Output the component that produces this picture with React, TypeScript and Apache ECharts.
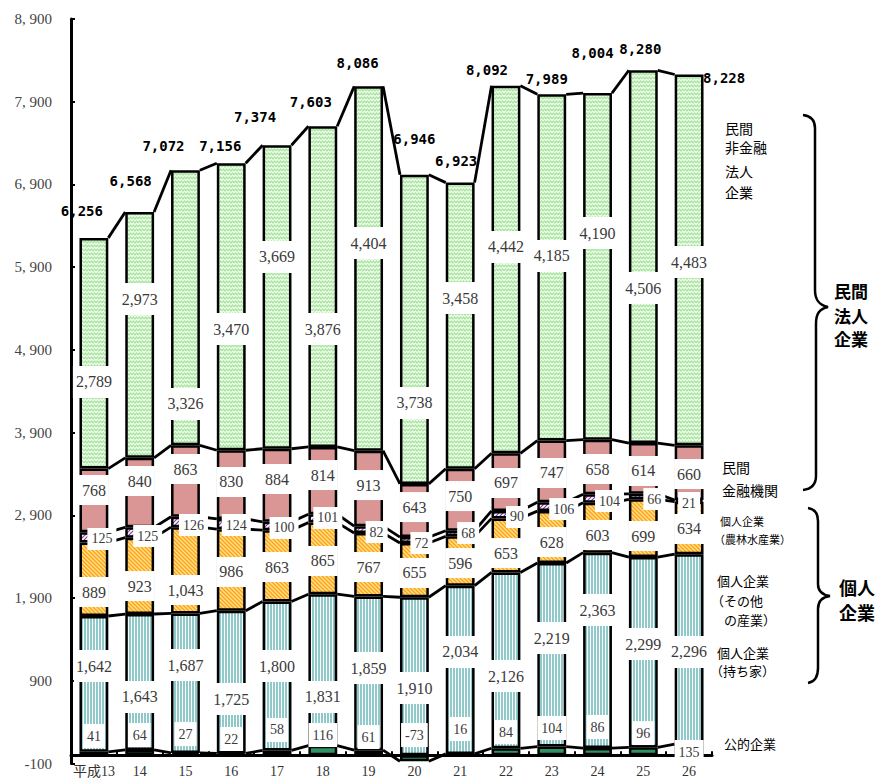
import React, { useEffect, useRef } from 'react';
import * as echarts from 'echarts';

// ---- data ----
const years = ['平成13', '14', '15', '16', '17', '18', '19', '20', '21', '22', '23', '24', '25', '26'];
const publicCorp = [41, 64, 27, 22, 58, 116, 61, -73, 16, 84, 104, 86, 96, 135];
const ownerHousing = [1642, 1643, 1687, 1725, 1800, 1831, 1859, 1910, 2034, 2126, 2219, 2363, 2299, 2296];
const otherIndustry = [889, 923, 1043, 986, 863, 865, 767, 655, 596, 653, 628, 603, 699, 634];
const agriculture = [125, 125, 126, 124, 100, 101, 82, 72, 68, 90, 106, 104, 66, 21];
const financial = [768, 840, 863, 830, 884, 814, 913, 643, 750, 697, 747, 658, 614, 660];
const nonFinancial = [2789, 2973, 3326, 3470, 3669, 3876, 4404, 3738, 3458, 4442, 4185, 4190, 4506, 4483];
const totals = [6256, 6568, 7072, 7156, 7374, 7603, 8086, 6946, 6923, 8092, 7989, 8004, 8280, 8228];
const yMin = -100;
const yMax = 8900;
const yStep = 1000;

// ---- label layout (y-axis value where each value box is centred) ----
const nonFinancialLabelAt = [4512, 5515, 4246, 5152, 6023, 5152, 6192, 4258, 5527, 6144, 6035, 6313, 5648, 5962];
const financialLabelAt = [3206, 3315, 3460, 3303, 3339, 3387, 3266, 3000, 3133, 3291, 3412, 3460, 3436, 3399];
const agricultureLabelAt = [2614, 2650, 2783, 2783, 2747, 2868, 2698, 2565, 2686, 2880, 2976, 3073, 3097, 3049];
const agricultureLabelDx = [8, 8, 8, 5, 7, 5, 8, 7, 8, 11, 12, 12, 11, 0];
const otherIndustryLabelAt = [1973, 2045, 1997, 2215, 2275, 2348, 2275, 2203, 2323, 2444, 2577, 2662, 2650, 2735];
const ownerHousingLabelAt = [1078, 704, 1090, 679, 1078, 704, 1054, 812, 1248, 957, 1417, 1755, 1344, 1248];
const publicCorpLabelAt = [232, 244, 256, 196, 305, 244, 220, 244, 317, 280, 329, 341, 268, 39];
const totalLabelOffset = [
  [-12, -27], [-9, -31], [-22, -24], [-11, -17], [-22, -28], [-12, -24], [-11, -23],
  [0, -42], [-4, -22], [-19, -16], [-5, -15], [-5, -40], [-3, -21], [35, 3],
];

const BAR_RATIO = 0.63;

const fmt = (v: number) => String(v).replace(/\B(?=(\d{3})+(?!\d))/g, ',');
const fmtAxis = (v: number) => {
  const a = Math.abs(v);
  if (a >= 1000) {
    return (v < 0 ? '-' : '') + Math.floor(a / 1000) + ', ' + String(a % 1000).padStart(3, '0');
  }
  return String(v);
};

function makePattern(w: number, h: number, draw: (ctx: CanvasRenderingContext2D) => void) {
  const c = document.createElement('canvas');
  c.width = w;
  c.height = h;
  const ctx = c.getContext('2d')!;
  draw(ctx);
  return { image: c.toDataURL(), repeat: 'repeat', imageWidth: w, imageHeight: h } as any;
}

function buildPatterns() {
  const housing = makePattern(3, 2, (ctx) => {
    ctx.fillStyle = '#8fc9c9';
    ctx.fillRect(0, 0, 3, 2);
    ctx.fillStyle = '#ffffff';
    ctx.fillRect(2, 0, 1, 2);
  });
  const other = makePattern(4, 4, (ctx) => {
    ctx.fillStyle = '#fba22a';
    ctx.fillRect(0, 0, 4, 4);
    ctx.strokeStyle = '#ffe680';
    ctx.lineWidth = 1.3;
    ctx.beginPath();
    ctx.moveTo(-1, -1); ctx.lineTo(5, 5);
    ctx.moveTo(-1, 3); ctx.lineTo(1, 5);
    ctx.moveTo(3, -1); ctx.lineTo(5, 1);
    ctx.stroke();
  });
  const agri = makePattern(4, 4, (ctx) => {
    ctx.fillStyle = '#ffffff';
    ctx.fillRect(0, 0, 4, 4);
    ctx.strokeStyle = '#8a3aa6';
    ctx.lineWidth = 1.2;
    ctx.beginPath();
    ctx.moveTo(-1, 5); ctx.lineTo(5, -1);
    ctx.moveTo(-1, 1); ctx.lineTo(1, -1);
    ctx.moveTo(3, 5); ctx.lineTo(5, 3);
    ctx.stroke();
  });
  const nonFin = makePattern(6, 4, (ctx) => {
    ctx.fillStyle = '#edfbea';
    ctx.fillRect(0, 0, 6, 4);
    ctx.strokeStyle = '#a6e39c';
    ctx.lineWidth = 1.2;
    ctx.beginPath();
    ctx.moveTo(0, 3); ctx.lineTo(1.5, 1); ctx.lineTo(3, 3); ctx.lineTo(4.5, 1); ctx.lineTo(6, 3);
    ctx.stroke();
  });
  return { housing, other, agri, nonFin };
}

function registerShapes() {
  echarts.graphic.registerShape(
    'braceCorp',
    echarts.graphic.extendPath(
      'M803 115 C811 116 815 120 815 128 L815 290 C815 300 819 305 828 307 C819 309 816 314 816 324 L816 476 C816 485 811 489 803 490',
      {}
    )
  );
  echarts.graphic.registerShape(
    'braceIndiv',
    echarts.graphic.extendPath(
      'M808 508 C815 509 818 513 818 521 L818 584 C818 591 822 595 830 596 C822 597 818 601 818 609 L818 668 C818 677 814 682 808 683',
      {}
    )
  );
}

const annotations: [string, number, number, number][] = [
  ['民間', 725, 128, 14],
  ['非金融', 725, 147, 14],
  ['法人', 725, 171, 14],
  ['企業', 725, 192, 14],
  ['民間', 722, 467, 14],
  ['金融機関', 722, 490, 14],
  ['個人企業', 720, 521, 11],
  ['（農林水産業）', 714, 539, 11],
  ['個人企業', 717, 580, 13],
  ['（その他', 711, 600, 13],
  ['の産業）', 724, 619, 13],
  ['個人企業', 717, 652, 13],
  ['（持ち家）', 710, 670, 13],
  ['公的企業', 724, 743, 13],
];
const groupTitles: [string, number, number, number][] = [
  ['民間', 834, 290, 17],
  ['法人', 834, 315, 17],
  ['企業', 834, 338, 17],
  ['個人', 839, 587, 18],
  ['企業', 839, 612, 18],
];

function buildOption() {
  const p = buildPatterns();
  const segments = [
    { name: '公的企業', data: publicCorp, color: '#2f9264' as any },
    { name: '個人企業（持ち家）', data: ownerHousing, color: p.housing },
    { name: '個人企業（その他の産業）', data: otherIndustry, color: p.other },
    { name: '個人企業（農林水産業）', data: agriculture, color: p.agri },
    { name: '民間金融機関', data: financial, color: '#d99694' as any },
    { name: '民間非金融法人企業', data: nonFinancial, color: p.nonFin },
  ];

  // stack boundaries used for the joining lines between neighbouring bars
  const L1 = publicCorp.slice();
  const L2 = ownerHousing.map((v, i) => Math.max(publicCorp[i], 0) + v);
  const L3 = L2.map((v, i) => v + otherIndustry[i]);
  const L4 = L3.map((v, i) => v + agriculture[i]);
  const L5 = L4.map((v, i) => v + financial[i]);
  const L6 = L5.map((v, i) => v + nonFinancial[i]);
  const levels = [L1, L2, L3, L4, L5, L6];

  const labelBase = {
    show: true,
    position: 'inside',
    backgroundColor: '#ffffff',
    color: '#3a3a3a',
    opacity: 1,
    fontFamily: 'Liberation Serif',
  };

  const labelSeries = (
    data: number[],
    at: number[],
    fontSize: number,
    padding: number[],
    dx?: number[]
  ) => ({
    type: 'scatter',
    z: 10,
    silent: true,
    symbolSize: 1,
    itemStyle: { color: 'rgba(0,0,0,0)', opacity: 1 },
    emphasis: { disabled: true },
    data: data.map((v, i) => ({
      value: [i, at[i], v],
      label: dx ? { offset: [dx[i], 0] } : undefined,
    })),
    label: {
      ...labelBase,
      fontSize,
      padding,
      formatter: (q: any) => fmt(q.value[2]),
    },
  });

  return {
    animation: false,
    backgroundColor: '#ffffff',
    grid: { left: 71, right: 179, top: 19, bottom: 18.5, containLabel: false, outerBoundsMode: 'none' },
    xAxis: {
      type: 'category',
      data: years,
      axisLine: { onZero: true, lineStyle: { color: '#000', width: 3 } },
      axisTick: { show: true, inside: true, length: 4, lineStyle: { color: '#000', width: 2 } },
      axisLabel: {
        interval: 0,
        color: '#333',
        fontSize: 14,
        fontFamily: 'Liberation Serif, "Noto Sans CJK JP"',
        margin: 1,
      },
      splitLine: { show: false },
    },
    yAxis: {
      type: 'value',
      min: yMin,
      max: yMax,
      interval: yStep,
      axisLine: { show: true, lineStyle: { color: '#000', width: 3 } },
      axisTick: { show: true, inside: true, length: 4, lineStyle: { color: '#000', width: 2 } },
      axisLabel: { color: '#444', fontSize: 15, fontFamily: 'Liberation Serif', margin: 19, formatter: fmtAxis },
      splitLine: { show: false },
    },
    series: [
      ...segments.map((s) => ({
        type: 'bar',
        name: s.name,
        stack: 'total',
        barWidth: BAR_RATIO * 100 + '%',
        data: s.data,
        z: 2,
        itemStyle: { color: s.color, borderColor: '#000', borderWidth: 2.5 },
      })),
      {
        type: 'custom',
        z: 3,
        silent: true,
        data: years.slice(0, -1).map((_, i) => [i, 0]),
        renderItem: (params: any, api: any) => {
          const i = params.dataIndex;
          const half = (api.size([1, 0])[0] * BAR_RATIO) / 2;
          return {
            type: 'group',
            children: levels.map((L) => {
              const a = api.coord([i, L[i]]);
              const b = api.coord([i + 1, L[i + 1]]);
              return {
                type: 'line',
                shape: { x1: a[0] + half, y1: a[1], x2: b[0] - half, y2: b[1] },
                style: { stroke: '#000', lineWidth: 2.8 },
              };
            }),
          };
        },
      },
      labelSeries(nonFinancial, nonFinancialLabelAt, 16, [8, 3]),
      labelSeries(financial, financialLabelAt, 16, [7, 3]),
      labelSeries(agriculture, agricultureLabelAt, 14, [4, 4], agricultureLabelDx),
      labelSeries(otherIndustry, otherIndustryLabelAt, 16, [7, 3]),
      labelSeries(ownerHousing, ownerHousingLabelAt, 16, [8, 2]),
      labelSeries(publicCorp, publicCorpLabelAt, 14, [5, 4]),
      {
        type: 'scatter',
        z: 11,
        silent: true,
        symbolSize: 1,
        itemStyle: { color: 'rgba(0,0,0,0)', opacity: 1 },
        emphasis: { disabled: true },
        data: totals.map((v, i) => ({
          value: [i, v],
          label: { offset: totalLabelOffset[i] },
        })),
        label: {
          show: true,
          position: 'inside',
          color: '#000',
          opacity: 1,
          fontSize: 14,
          fontWeight: 'bold',
          fontFamily: '"DejaVu Sans Mono"',
          formatter: (q: any) => fmt(q.value[1]),
        },
      },
    ],
    graphic: [
      { type: 'braceCorp', x: 0, y: 0, silent: true, style: { stroke: '#000', lineWidth: 2.5, fill: 'none' } },
      { type: 'braceIndiv', x: 0, y: 0, silent: true, style: { stroke: '#000', lineWidth: 2.5, fill: 'none' } },
      ...annotations.map(([t, x, y, s]) => ({
        type: 'text',
        x,
        y,
        silent: true,
        style: {
          text: t,
          fill: '#000',
          fontSize: s,
          fontFamily: '"Noto Sans CJK JP"',
          verticalAlign: 'middle',
          align: 'left',
        },
      })),
      ...groupTitles.map(([t, x, y, s]) => ({
        type: 'text',
        x,
        y,
        silent: true,
        style: {
          text: t,
          fill: '#000',
          fontSize: s,
          fontWeight: 'bold',
          fontFamily: '"Noto Sans CJK JP"',
          verticalAlign: 'middle',
          align: 'left',
        },
      })),
    ],
  };
}

export default function App() {
  const ref = useRef<HTMLDivElement>(null);
  useEffect(() => {
    if (!ref.current) return;
    registerShapes();
    const chart = echarts.init(ref.current, null, { renderer: 'svg' });
    chart.setOption(buildOption() as any);
    return () => chart.dispose();
  }, []);
  return (
    <div
      ref={ref}
      style={{ position: 'fixed', left: 0, top: 0, width: 891, height: 782, background: '#fff' }}
    />
  );
}
